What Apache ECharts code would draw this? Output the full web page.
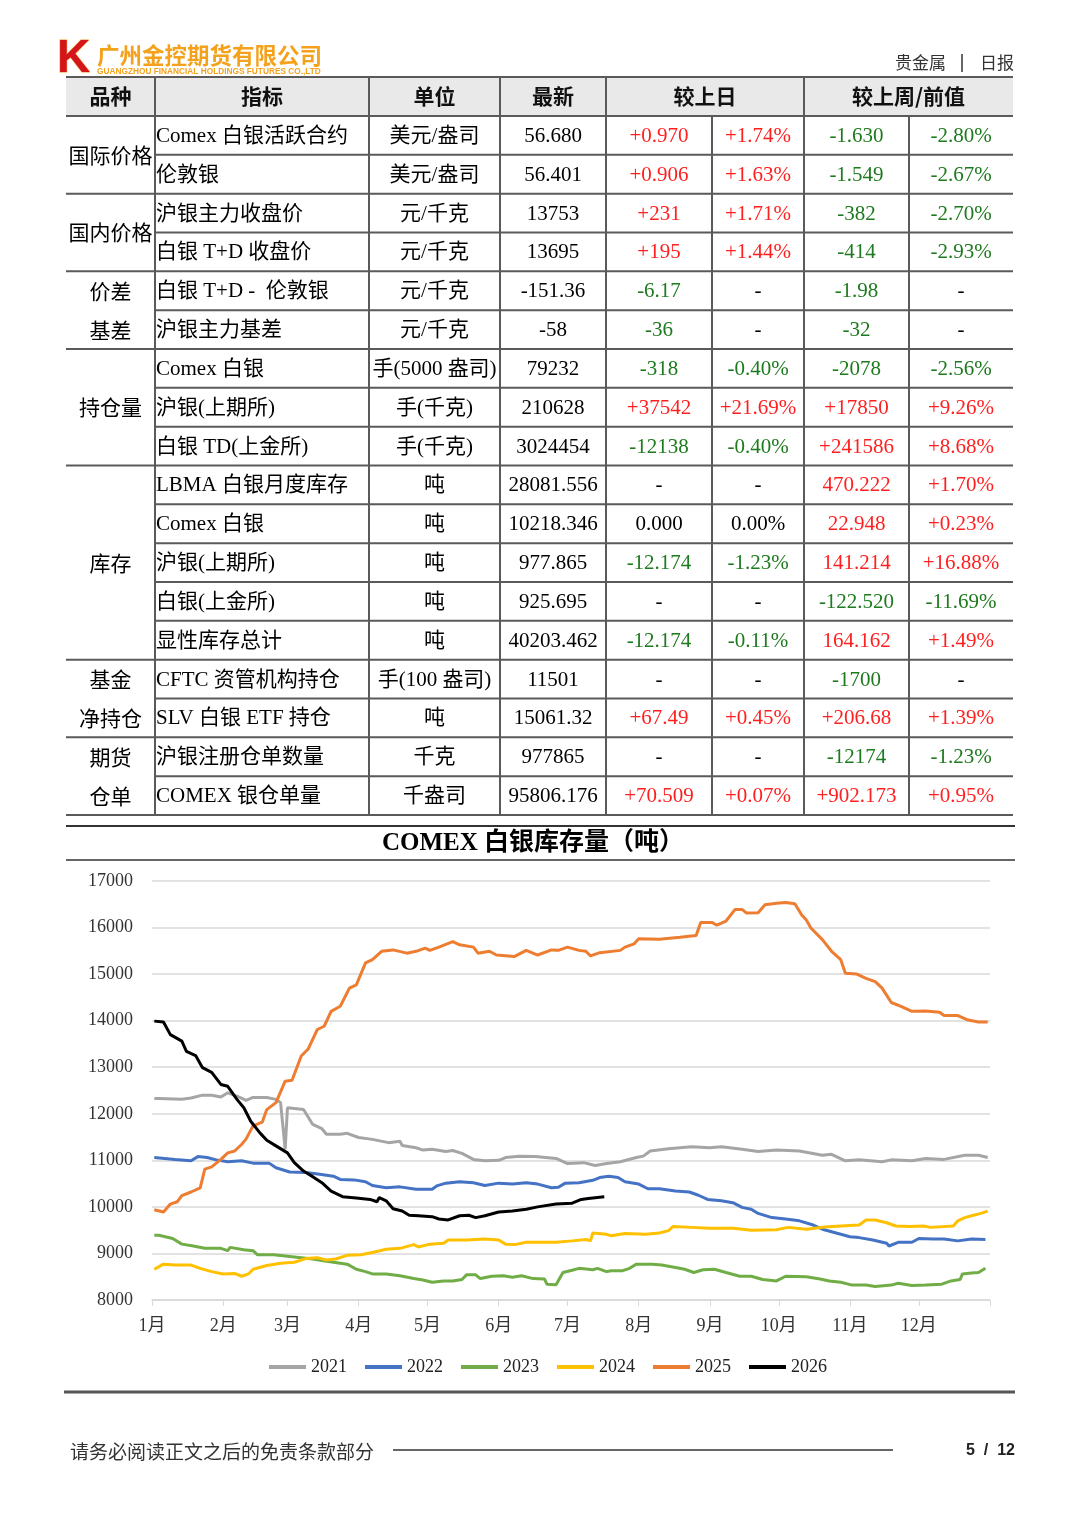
<!DOCTYPE html>
<html>
<head>
<meta charset="utf-8">
<script src="https://cdn.jsdelivr.net/npm/echarts/dist/echarts.min.js"></script>
<style>
  body { margin: 0; background: #fff; }
  #main { width: 1080px; height: 1527px; }
</style>
</head>
<body>
<div id="main"></div>
<script>
// ---- 表格数据 ----
var headers = ['品种', '指标', '单位', '最新', '较上日', '较上周/前值'];
var groups = ['国际价格', '国内价格', '价差\n基差', '持仓量', '库存', '基金\n净持仓', '期货\n仓单'];
var groupSpans = [2, 2, 2, 3, 5, 2, 2];
var indicators = ['Comex 白银活跃合约', '伦敦银', '沪银主力收盘价', '白银 T+D 收盘价', '白银 T+D -  伦敦银', '沪银主力基差',
  'Comex 白银', '沪银(上期所)', '白银 TD(上金所)', 'LBMA 白银月度库存', 'Comex 白银', '沪银(上期所)', '白银(上金所)',
  '显性库存总计', 'CFTC 资管机构持仓', 'SLV 白银 ETF 持仓', '沪银注册仓单数量', 'COMEX 银仓单量'];
var units = ['美元/盎司', '美元/盎司', '元/千克', '元/千克', '元/千克', '元/千克', '手(5000 盎司)', '手(千克)', '手(千克)',
  '吨', '吨', '吨', '吨', '吨', '手(100 盎司)', '吨', '千克', '千盎司'];
var latest = ['56.680', '56.401', '13753', '13695', '-151.36', '-58', '79232', '210628', '3024454', '28081.556',
  '10218.346', '977.865', '925.695', '40203.462', '11501', '15061.32', '977865', '95806.176'];
var dayChg = ['+0.970', '+0.906', '+231', '+195', '-6.17', '-36', '-318', '+37542', '-12138', '-', '0.000',
  '-12.174', '-', '-12.174', '-', '+67.49', '-', '+70.509'];
var dayPct = ['+1.74%', '+1.63%', '+1.71%', '+1.44%', '-', '-', '-0.40%', '+21.69%', '-0.40%', '-', '0.00%',
  '-1.23%', '-', '-0.11%', '-', '+0.45%', '-', '+0.07%'];
var weekChg = ['-1.630', '-1.549', '-382', '-414', '-1.98', '-32', '-2078', '+17850', '+241586', '470.222',
  '22.948', '141.214', '-122.520', '164.162', '-1700', '+206.68', '-12174', '+902.173'];
var weekPct = ['-2.80%', '-2.67%', '-2.70%', '-2.93%', '-', '-', '-2.56%', '+9.26%', '+8.68%', '+1.70%',
  '+0.23%', '+16.88%', '-11.69%', '+1.49%', '-', '+1.39%', '-1.23%', '+0.95%'];

// ---- 图表数据：[年内第几天, 库存(吨)] ----
var monthStarts = [0, 31, 59, 90, 120, 151, 181, 212, 243, 273, 304, 334];
var monthLabels = ['1月', '2月', '3月', '4月', '5月', '6月', '7月', '8月', '9月', '10月', '11月', '12月'];
var yearNames = ['2021', '2022', '2023', '2024', '2025', '2026'];

var s2021 = [[1,12330],[3,12330],[13,12310],[17,12340],[22,12400],[26,12400],[30,12360],[33,12450],[37,12380],
  [41,12290],[44,12350],[50,12350],[54,12310],[56,12240],[58,11240],[59,12130],[66,12090],[70,11770],[74,11680],
  [76,11560],[82,11560],[85,11580],[90,11490],[96,11450],[103,11380],[108,11410],[109,11320],[115,11270],
  [118,11220],[122,11240],[128,11190],[131,11210],[135,11150],[140,11020],[145,10990],[151,11000],[154,11060],
  [160,11090],[167,11080],[176,11040],[181,10930],[188,10950],[193,10890],[198,10930],[204,10970],[211,11060],
  [214,11090],[217,11200],[225,11250],[235,11290],[243,11270],[248,11290],[257,11240],[264,11190],[272,11220],
  [282,11200],[292,11110],[296,11130],[302,10990],[308,11010],[318,10970],[322,11010],[331,10990],[337,11040],
  [345,11020],[354,11110],[360,11110],[364,11060]];
var s2022 = [[1,11060],[10,11020],[17,10990],[20,11080],[24,11060],[28,11010],[33,10970],[39,10990],[44,10940],
  [51,10940],[54,10840],[60,10750],[67,10740],[73,10700],[79,10660],[82,10590],[88,10580],[93,10540],[96,10460],
  [102,10410],[108,10430],[115,10380],[122,10380],[124,10450],[128,10510],[134,10540],[140,10520],[145,10460],
  [151,10510],[157,10490],[163,10520],[168,10490],[174,10410],[177,10420],[180,10510],[186,10520],[192,10570],
  [195,10630],[199,10660],[203,10630],[206,10540],[212,10490],[216,10390],[221,10390],[228,10340],[234,10320],
  [238,10250],[242,10160],[248,10130],[253,10090],[257,9990],[261,9950],[264,9860],[270,9770],[276,9740],
  [282,9700],[288,9610],[292,9520],[298,9440],[304,9360],[308,9340],[314,9290],[320,9220],[321,9160],[325,9240],
  [331,9240],[334,9320],[340,9310],[345,9310],[351,9270],[357,9310],[363,9300]];
var s2023 = [[1,9390],[3,9390],[9,9320],[13,9200],[18,9160],[23,9110],[30,9110],[33,9060],[34,9130],[40,9080],
  [44,9060],[46,8970],[53,8970],[59,8940],[65,8910],[70,8880],[76,8830],[82,8790],[85,8770],[89,8660],[93,8610],
  [96,8560],[102,8560],[108,8520],[114,8460],[118,8430],[122,8380],[127,8410],[131,8410],[135,8440],[137,8540],
  [141,8540],[143,8460],[148,8510],[153,8520],[157,8490],[161,8520],[166,8460],[171,8450],[172,8340],[176,8330],
  [179,8590],[183,8640],[186,8680],[192,8650],[194,8680],[198,8610],[200,8630],[205,8630],[208,8680],[211,8770],
  [218,8770],[222,8750],[228,8700],[232,8660],[236,8590],[240,8650],[245,8660],[250,8590],[256,8510],[261,8510],
  [266,8440],[272,8410],[276,8510],[285,8500],[291,8450],[295,8410],[300,8380],[305,8320],[311,8320],[315,8290],
  [322,8320],[325,8360],[331,8310],[337,8320],[344,8340],[348,8410],[352,8440],[353,8560],[357,8580],[360,8590],
  [363,8680]];
var s2024 = [[1,8660],[5,8770],[10,8750],[17,8750],[21,8680],[26,8610],[31,8560],[36,8570],[39,8510],[42,8560],
  [44,8660],[50,8740],[56,8790],[62,8810],[67,8890],[72,8910],[76,8860],[80,8880],[85,8960],[91,8970],[96,9020],
  [102,9090],[108,9110],[114,9190],[116,9140],[121,9200],[127,9220],[129,9290],[137,9290],[145,9310],[151,9290],
  [154,9200],[158,9190],[163,9240],[170,9240],[176,9240],[183,9270],[189,9300],[191,9270],[192,9440],[198,9410],
  [200,9380],[206,9430],[215,9410],[221,9440],[225,9490],[227,9580],[235,9560],[243,9540],[253,9540],[261,9500],
  [272,9510],[277,9560],[285,9520],[293,9570],[300,9590],[308,9610],[311,9720],[315,9720],[320,9660],[324,9590],
  [330,9580],[336,9590],[339,9560],[349,9590],[351,9700],[354,9770],[357,9810],[361,9860],[364,9910]];
var s2025 = [[1,9940],[5,9890],[8,10060],[11,10110],[13,10240],[17,10320],[21,10410],[23,10810],[26,10860],
  [30,11020],[33,11160],[36,11200],[39,11340],[41,11460],[44,11740],[48,11820],[50,12090],[54,12240],[58,12700],
  [61,12720],[65,13240],[68,13390],[72,13810],[75,13880],[78,14200],[82,14310],[86,14700],[89,14770],[93,15240],
  [96,15310],[100,15490],[105,15520],[111,15450],[115,15490],[119,15560],[121,15510],[125,15580],[131,15700],
  [134,15630],[140,15580],[142,15450],[147,15490],[150,15410],[158,15380],[163,15510],[168,15410],[174,15520],
  [177,15510],[181,15580],[186,15510],[189,15490],[191,15390],[195,15460],[204,15510],[206,15580],[210,15650],
  [212,15760],[221,15750],[230,15790],[237,15830],[239,16110],[244,16110],[246,16050],[250,16140],[254,16390],
  [257,16390],[259,16310],[264,16320],[267,16490],[272,16520],[276,16540],[280,16510],[283,16270],[285,16160],
  [287,15990],[292,15740],[296,15490],[300,15310],[302,15020],[307,15000],[311,14910],[315,14840],[318,14700],
  [322,14390],[326,14310],[331,14200],[337,14210],[343,14180],[345,14110],[351,14110],[355,14020],[360,13970],
  [364,13970]];
var s2026 = [[1,13990],[5,13970],[8,13700],[13,13560],[15,13340],[19,13250],[22,12990],[26,12890],[30,12630],
  [33,12590],[37,12310],[40,12130],[43,11840],[47,11590],[50,11430],[54,11310],[59,11160],[62,10950],[66,10770],
  [70,10650],[74,10520],[78,10340],[83,10220],[89,10190],[95,10160],[98,10110],[99,10200],[102,10130],[105,9960],
  [109,9910],[112,9820],[116,9810],[122,9790],[125,9740],[129,9720],[134,9810],[138,9820],[141,9770],[145,9810],
  [151,9890],[157,9910],[163,9950],[168,10000],[176,10060],[183,10080],[187,10160],[190,10180],[197,10220]];

// ---- 布局 ----
var SERIF = '"Liberation Serif", "Noto Sans CJK SC"';
var CJK = '"Noto Sans CJK SC"';
var colX = [66, 155, 369, 500, 606, 712, 804, 909, 1013];
var headTop = 77, bodyTop = 116, bodyBottom = 815;
var rowH = (bodyBottom - bodyTop) / indicators.length;
var lineColor = '#5a5a5a';

function txt(x, y, text, font, fill, align, extra) {
  var st = { text: text, font: font, fill: fill || '#000', align: align || 'center', verticalAlign: 'middle',
    textAlign: align || 'center', textVerticalAlign: 'middle' };
  if (extra) for (var k in extra) st[k] = extra[k];
  return { type: 'text', x: x, y: y, silent: true, z: 10, style: st };
}
function line(x1, y1, x2, y2, w, c) {
  return { type: 'line', silent: true, z: 5, shape: { x1: x1, y1: y1, x2: x2, y2: y2 },
    style: { stroke: c || lineColor, lineWidth: w || 2 } };
}
function signColor(s) {
  var v = parseFloat(s.replace('%', ''));
  if (isNaN(v) || v === 0) return '#000';
  return v > 0 ? '#ff1f1f' : '#1e7a1e';
}

var els = [];
// 页眉
els.push(txt(57, 59, 'K', 'bold 46px "Liberation Sans"', '#d4151b', 'left', { stroke: '#f2a22a', lineWidth: 1 }));
els.push(txt(97, 55, '广州金控期货有限公司', 'bold 22.5px ' + CJK, '#f4a21c', 'left'));
els.push(txt(97, 71.5, 'GUANGZHOU FINANCIAL HOLDINGS FUTURES CO.,LTD', 'bold 8.3px "Liberation Sans"', '#f4a21c', 'left'));
els.push(txt(946, 63, '贵金属', '17px ' + CJK, '#333', 'right'));
els.push(line(962, 54, 962, 72, 1.5, '#333'));
els.push(txt(1014, 63, '日报', '17px ' + CJK, '#333', 'right'));

// 表头
els.push({ type: 'rect', silent: true, z: 1, shape: { x: colX[0], y: headTop, width: colX[8] - colX[0], height: bodyTop - headTop },
  style: { fill: '#e9e9e9' } });
var hSpans = [1, 1, 1, 1, 2, 2], ci = 0;
headers.forEach(function (h, i) {
  var x0 = colX[ci], x1 = colX[ci + hSpans[i]];
  els.push(txt((x0 + x1) / 2, (headTop + bodyTop) / 2, h, 'bold 21px ' + CJK, '#111'));
  ci += hSpans[i];
});

// 横线
var groupEnds = [], acc = 0;
groupSpans.forEach(function (n) { acc += n; groupEnds.push(acc); });
els.push(line(colX[0], headTop, colX[8], headTop));
els.push(line(colX[0], bodyTop, colX[8], bodyTop));
for (var r = 1; r <= indicators.length; r++) {
  var y = bodyTop + r * rowH;
  var full = groupEnds.indexOf(r) >= 0;
  els.push(line(full ? colX[0] : colX[1], y, colX[8], y));
}
// 竖线
[1, 2, 3, 4, 6].forEach(function (c) { els.push(line(colX[c], headTop, colX[c], bodyBottom)); });
[5, 7].forEach(function (c) { els.push(line(colX[c], bodyTop, colX[c], bodyBottom)); });

// 分组
var start = 0;
groups.forEach(function (g, i) {
  var cy = bodyTop + (start + groupSpans[i] / 2) * rowH;
  els.push(txt((colX[0] + colX[1]) / 2, cy, g, '21px ' + CJK, '#000', 'center', { lineHeight: rowH }));
  start += groupSpans[i];
});
// 表体
indicators.forEach(function (name, i) {
  var cy = bodyTop + (i + 0.5) * rowH + 1;
  var f = '21px ' + SERIF;
  els.push(txt(colX[1] + 1, cy, name, f, '#000', 'left'));
  els.push(txt((colX[2] + colX[3]) / 2, cy, units[i], f, '#000'));
  els.push(txt((colX[3] + colX[4]) / 2, cy, latest[i], f, '#000'));
  els.push(txt((colX[4] + colX[5]) / 2, cy, dayChg[i], f, signColor(dayChg[i])));
  els.push(txt((colX[5] + colX[6]) / 2, cy, dayPct[i], f, signColor(dayPct[i])));
  els.push(txt((colX[6] + colX[7]) / 2, cy, weekChg[i], f, signColor(weekChg[i])));
  els.push(txt((colX[7] + colX[8]) / 2, cy, weekPct[i], f, signColor(weekPct[i])));
});

// 图表标题
els.push(line(66, 826, 1015, 826, 2, '#333'));
els.push(line(66, 860, 1015, 860, 1.5, '#333'));
els.push(txt(533, 843.5, 'COMEX 白银库存量（吨）', 'bold 25px ' + SERIF, '#000'));

// 页脚
els.push(line(64, 1392, 1015, 1392, 3, '#555'));
els.push(txt(70, 1452, '请务必阅读正文之后的免责条款部分', '19px ' + CJK, '#333', 'left'));
els.push(line(393, 1450, 893, 1450, 2, '#666'));
els.push(txt(1015, 1451, '5  /  12', 'bold 16px "Liberation Sans"', '#222', 'right'));

// ---- 图表 ----
var days = [];
for (var d = 0; d <= 365; d++) days.push(String(d));
var seriesData = [s2021, s2022, s2023, s2024, s2025, s2026];
var colors = ['#a5a5a5', '#4472c4', '#70ad47', '#ffc000', '#ed7d31', '#000000'];

var chart = echarts.init(document.getElementById('main'));
chart.setOption({
  backgroundColor: '#ffffff',
  animation: false,
  color: colors,
  grid: { left: 152, right: 90, top: 881, bottom: 227 },
  legend: {
    data: yearNames,
    left: 264, top: 1353,
    icon: 'rect', itemWidth: 37, itemHeight: 4, itemGap: 18,
    textStyle: { fontFamily: SERIF, fontSize: 18, color: '#222' }
  },
  xAxis: {
    type: 'category',
    data: days,
    boundaryGap: false,
    axisLine: { lineStyle: { color: '#d9d9d9', width: 1.5 } },
    axisTick: {
      length: 6, lineStyle: { color: '#d9d9d9' },
      interval: function (index) { return monthStarts.indexOf(index) >= 0 || index === 365; }
    },
    axisLabel: {
      interval: function (index) { return monthStarts.indexOf(index) >= 0; },
      formatter: function (value) { return monthLabels[monthStarts.indexOf(Number(value))] || ''; },
      fontFamily: SERIF, fontSize: 18, color: '#333', margin: 17
    },
    splitLine: { show: false }
  },
  yAxis: {
    type: 'value', min: 8000, max: 17000, interval: 1000,
    axisLine: { show: false }, axisTick: { show: false },
    splitLine: { lineStyle: { color: '#d9d9d9', width: 1.5 } },
    axisLabel: { fontFamily: SERIF, fontSize: 18, color: '#333', margin: 19,
      formatter: function (v) { return String(v); } }
  },
  series: yearNames.map(function (name, i) {
    return {
      name: name, type: 'line', data: seriesData[i],
      showSymbol: false, symbol: 'none',
      lineStyle: { width: 3, color: colors[i] },
      itemStyle: { color: colors[i] }
    };
  }),
  graphic: { elements: els }
});
</script>
</body>
</html>
